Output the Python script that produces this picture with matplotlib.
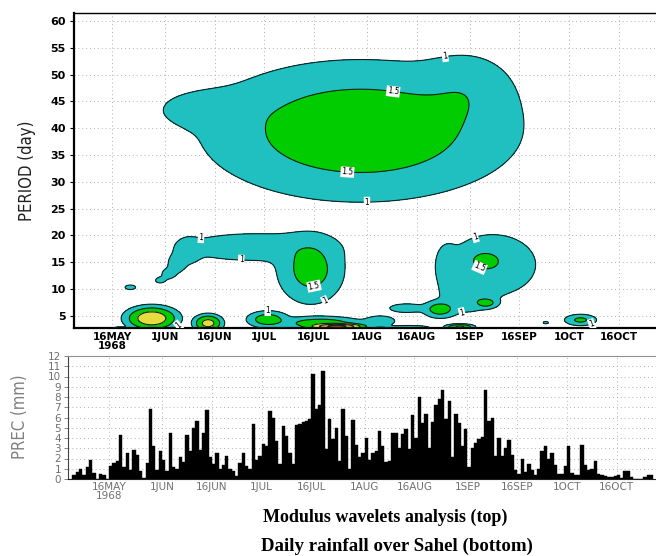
import numpy as np
import matplotlib
matplotlib.use('Agg')
import matplotlib.pyplot as plt

# ---------------- data ----------------
# x axis: days counted from 1 May 1968 (1 May = 0)
tick_days = [15, 31, 46, 61, 76, 92, 107, 123, 138, 153, 168]
tick_labels = ['16MAY\n1968', '1JUN', '16JUN', '1JUL', '16JUL', '1AUG',
               '16AUG', '1SEP', '16SEP', '1OCT', '16OCT']

# daily rainfall (mm), first bar = 4 May 1968
rain_first_day = 4
rain = [0.4, 0.7, 1.0, 0.4, 1.2, 1.9, 0.6, 0.0, 0.5, 0.4, 0.0, 1.3, 1.6, 1.8, 4.3,
        1.2, 2.5, 0.9, 2.8, 2.3, 0.8, 0.1, 1.6, 6.8, 3.2, 0.9, 2.7, 1.9, 0.8, 4.5,
        1.2, 1.0, 2.1, 1.7, 4.3, 2.7, 5.0, 5.7, 2.8, 4.5, 6.7, 2.1, 1.5, 2.5,
        1.0, 1.4, 2.2, 1.0, 0.8, 0.3, 1.6, 2.5, 1.3, 1.0, 5.4, 1.9, 2.2, 3.4, 3.2,
        6.6, 6.0, 3.7, 1.5, 5.2, 4.2, 2.5, 1.5,
        5.3, 5.4, 5.6, 5.7, 5.9, 10.2, 6.8, 7.2, 10.5, 2.9, 5.9, 3.9, 5.0, 1.8, 6.8,
        4.2, 1.0, 5.8, 3.3, 2.1, 2.5, 4.0, 1.9, 2.5, 2.7, 4.7, 3.2, 1.7, 1.8, 4.5,
        4.5, 3.0, 4.4, 4.9, 2.9, 6.2, 4.0, 8.0, 5.5, 6.3, 3.0,
        5.6, 7.2, 7.8, 8.7, 5.9, 7.6, 2.1, 6.3, 5.5, 3.2, 4.9, 1.2, 3.0, 3.5, 3.9,
        4.1, 8.7, 5.7, 6.0, 2.2, 4.0, 2.2, 3.0, 3.8, 2.3, 0.9, 0.5, 2.0, 0.7, 1.5,
        0.9, 0.4, 1.0, 2.7, 3.2, 2.0, 2.5, 1.4, 0.5, 0.5, 1.3, 3.2, 0.6, 0.4, 0.4,
        3.3, 1.4, 0.9, 1.0, 1.8, 0.5, 0.4, 0.3, 0.2, 0.2, 0.3, 0.4, 0.1, 0.8, 0.8,
        0.2, 0.0, 0.0, 0.0, 0.2, 0.4, 0.4]

period_ticks = [5, 10, 15, 20, 25, 30, 35, 40, 45, 50, 55, 60]
prec_ticks = list(range(0, 13))

# wavelet modulus read from the picture as elliptical patches
# (centre day, centre period, spread in days, spread in period, peak value)
blob_day = [90, 44, 122,                              # 30-56 day band
            29.5, 32, 34.5, 38, 58, 75, 20.5,         # June-July 8-21 day band
            130, 127.5, 116, 122,                     # September 8-21 day band
            27, 17, 44, 62, 78, 83,                   # May-July 2-7 day band
            96, 104, 114, 105, 128, 120, 146, 156.5]
blob_period = [39.5, 43.5, 47,
               11.6, 12.8, 14.6, 17, 17.8, 13.6, 10.3,
               14.5, 15.3, 14, 8.5,
               4.5, 2.7, 3.6, 4.3, 3.6, 3.0,
               4.0, 6.4, 6.2, 2.8, 7.4, 2.9, 3.7, 4.2]
blob_day_sd = [44, 17, 16,
               2.5, 3, 3.5, 4.5, 28, 10, 3,
               15, 4, 4, 9,
               7, 3, 4, 6, 12, 7,
               6, 7, 5, 8, 3.5, 4, 1.8, 5]
blob_period_sd = [12, 4, 8,
                  0.9, 1.4, 2.2, 3, 3.4, 6.3, 0.8,
                  6.5, 1.5, 5, 3.5,
                  2, 0.4, 1.5, 1.5, 1.2, 0.5,
                  1.3, 1.1, 1.6, 0.5, 1.0, 0.5, 0.5, 1.1]
blob_amp = [1.85, 1.28, 1.3,
            1.15, 1.2, 1.25, 1.25, 1.3, 1.7, 1.15,
            1.45, 1.65, 1.3, 1.35,
            2.4, 1.1, 2.2, 1.8, 1.8, 3.2,
            1.3, 1.3, 1.75, 1.3, 1.7, 2.1, 1.1, 1.6]

levels = [1, 1.5, 2, 2.5, 3, 20]
fill_colors = ['#20c0c0', '#00cc00', '#e6dc40', '#f0a030', '#e04020']

label_points = [(115, 55.8), (100, 47.4), (86, 31), (92, 26.4), (42, 20.6),
                (54, 15.4), (76, 10.5), (79, 8.2), (124, 21), (126, 14),
                (35, 3.2), (62, 5.8), (120, 7.5), (160, 3.2)]

# ---------------- figure ----------------
W, H = 656, 556
fig = plt.figure(figsize=(W / 100, H / 100), dpi=100)

ax1 = fig.add_axes([74 / W, 1 - 328 / H, (W - 74) / W, 315 / H])
ax2 = fig.add_axes([68 / W, 1 - 479 / H, (W - 68) / W, 123 / H])

# field: smooth union of the patches
dd = np.linspace(3, 181, 600)
pp = np.linspace(2.5, 62, 500)
D, P = np.meshgrid(dd, pp)
acc = np.zeros_like(D)
for d0, p0, sd, sp, a in zip(blob_day, blob_period, blob_day_sd, blob_period_sd, blob_amp):
    acc += (a * np.exp(-0.5 * (((D - d0) / sd) ** 2 + ((P - p0) / sp) ** 2))) ** 4
Z = acc ** (1 / 4)

grid_kw = dict(color='#b0b0b0', linestyle=(0, (1, 3)), linewidth=0.7)

ax1.set_axisbelow(True)
ax1.grid(True, **grid_kw)
ax1.contourf(D, P, Z, levels=levels, colors=fill_colors, zorder=2)
cs = ax1.contour(D, P, Z, levels=levels[:-1], colors='#102020', linewidths=0.8, zorder=3)
labs = ax1.clabel(cs, levels=[1, 1.5], fmt={1: '1', 1.5: '1.5', 2: '2', 2.5: '2.5', 3: '3'},
                  fontsize=5.5, manual=label_points, inline=False, colors='k')
for t in labs:
    t.set_bbox(dict(facecolor='white', edgecolor='none', pad=0.6))
    t.set_zorder(5)

ax1.set_xlim(3.5, 179.3)
ax1.set_ylim(2.7, 61.5)
ax1.set_xticks(tick_days)
ax1.set_xticklabels(tick_labels, fontsize=7.5, fontweight='bold', linespacing=0.8)
ax1.set_yticks(period_ticks)
ax1.set_yticklabels([str(v) for v in period_ticks], fontsize=8, fontweight='bold')
ax1.tick_params(axis='x', length=0, pad=3)
ax1.tick_params(axis='y', length=3, width=0.8, direction='out', pad=3)
for s in ['left', 'bottom']:
    ax1.spines[s].set_linewidth(1.6)
ax1.spines['top'].set_linewidth(1.0)
ax1.spines['right'].set_visible(False)

# rainfall bars
rain_days = rain_first_day + np.arange(len(rain))
ax2.set_axisbelow(True)
ax2.grid(True, **grid_kw)
ax2.bar(rain_days, rain, width=1.0, align='edge', color='black', edgecolor='black',
        linewidth=0.3, zorder=2)
ax2.set_xlim(2.65, 179.8)
ax2.set_ylim(0, 12)
ax2.set_xticks(tick_days)
ax2.set_xticklabels(tick_labels, fontsize=7.5, color='#707070', linespacing=0.85)
ax2.set_yticks(prec_ticks)
ax2.set_yticklabels([str(v) for v in prec_ticks], fontsize=7.5, color='#707070')
ax2.tick_params(axis='x', length=0, pad=2)
ax2.tick_params(axis='y', length=3, width=0.6, direction='out', color='#707070', pad=2)
ax2.spines['left'].set_color('#404040')
ax2.spines['bottom'].set_color('#202020')
ax2.spines['top'].set_color('#909090')
ax2.spines['top'].set_linewidth(0.8)
ax2.spines['right'].set_visible(False)

fig.text(27 / W, 1 - 171 / H, 'PERIOD (day)', rotation=90, ha='center', va='center',
         fontsize=12, family='DejaVu Sans', fontstretch='condensed', color='#202020')
fig.text(20 / W, 1 - 417 / H, 'PREC (mm)', rotation=90, ha='center', va='center',
         fontsize=12, family='DejaVu Sans', fontstretch='condensed', color='#808080')

serif = ['Liberation Serif', 'DejaVu Serif']
fig.text(385 / W, 1 - 517 / H, 'Modulus wavelets analysis (top)', ha='center', va='center',
         fontsize=13, fontweight='bold', family=serif)
fig.text(397 / W, 1 - 546 / H, 'Daily rainfall over Sahel (bottom)', ha='center', va='center',
         fontsize=13.6, fontweight='bold', family=serif)

fig.savefig('out.png', dpi=100)
